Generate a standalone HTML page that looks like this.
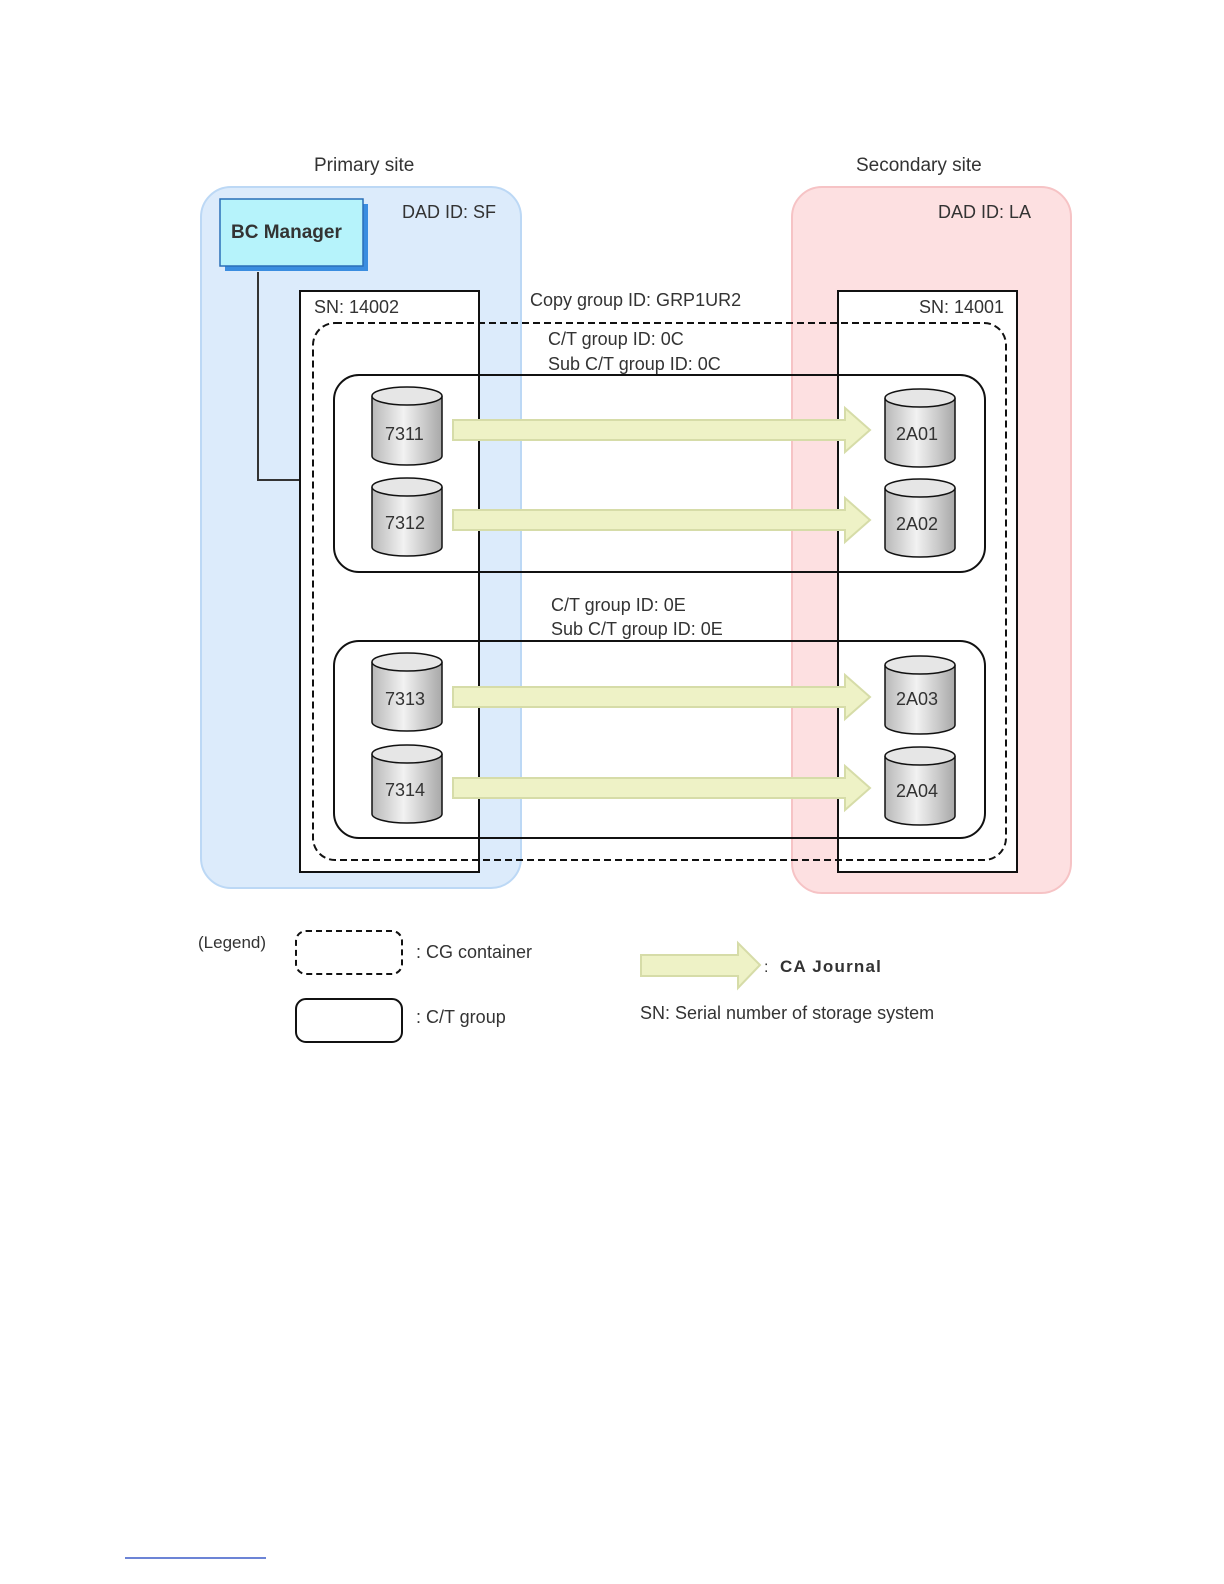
<!DOCTYPE html>
<html><head><meta charset="utf-8"><style>
html,body{margin:0;padding:0;background:#fff;overflow:hidden;width:1224px;height:1584px;}
svg{display:block;position:absolute;left:0;top:0;}
text{font-family:"Liberation Sans",sans-serif;fill:#333;}
</style></head><body>
<svg width="1224" height="1584" viewBox="0 0 1224 1584" xmlns="http://www.w3.org/2000/svg">
<defs>
<linearGradient id="cyl" x1="0" x2="1" y1="0" y2="0">
<stop offset="0" stop-color="#b8b8b8"/><stop offset="0.45" stop-color="#f2f2f2"/><stop offset="1" stop-color="#a8a8a8"/>
</linearGradient>
<g id="cy">
<path d="M0,10 L0,70 A35,9 0 0 0 70,70 L70,10" fill="url(#cyl)" stroke="#111" stroke-width="1.5"/>
<ellipse cx="35" cy="10" rx="35" ry="9" fill="#e6e6e6" stroke="#111" stroke-width="1.5"/>
</g>
<g id="ar">
<path d="M0,-10 L392,-10 L392,-22 L417,0 L392,22 L392,10 L0,10 Z" fill="#eef2c6" stroke="#d6dca8" stroke-width="2"/>
</g>
</defs>

<text x="314" y="171" font-size="19">Primary site</text>
<text x="856" y="171" font-size="19">Secondary site</text>

<rect x="201" y="187" width="320" height="701" rx="30" fill="#dcebfb" stroke="#bcd8f5" stroke-width="2"/>
<rect x="792" y="187" width="279" height="706" rx="30" fill="#fde0e1" stroke="#f6c3c5" stroke-width="2"/>

<text x="402" y="218" font-size="18">DAD ID: SF</text>
<text x="938" y="218" font-size="18">DAD ID: LA</text>

<rect x="225" y="204" width="143" height="67" fill="#3a8de0"/>
<rect x="220" y="199" width="143" height="67" fill="#b6f3fb" stroke="#2a6fb8" stroke-width="1.5"/>
<text x="231" y="238" font-size="19" font-weight="bold" fill="#222">BC Manager</text>

<polyline points="258,272 258,480 300,480" fill="none" stroke="#333" stroke-width="2"/>

<rect x="300" y="291" width="179" height="581" fill="#fff" stroke="#111" stroke-width="2"/>
<rect x="838" y="291" width="179" height="581" fill="#fff" stroke="#111" stroke-width="2"/>
<text x="314" y="313" font-size="18">SN: 14002</text>
<text x="919" y="313" font-size="18">SN: 14001</text>

<text x="530" y="306" font-size="18">Copy group ID: GRP1UR2</text>

<rect x="313" y="323" width="693" height="537" rx="22" fill="none" stroke="#111" stroke-width="2" stroke-dasharray="7,4"/>

<text x="548" y="345" font-size="18">C/T group ID: 0C</text>
<text x="548" y="370" font-size="18">Sub C/T group ID: 0C</text>
<rect x="334" y="375" width="651" height="197" rx="25" fill="none" stroke="#111" stroke-width="2"/>

<text x="551" y="611" font-size="18">C/T group ID: 0E</text>
<text x="551" y="635" font-size="18">Sub C/T group ID: 0E</text>
<rect x="334" y="641" width="651" height="197" rx="25" fill="none" stroke="#111" stroke-width="2"/>

<use href="#ar" x="453" y="430"/>
<use href="#ar" x="453" y="520"/>
<use href="#ar" x="453" y="697"/>
<use href="#ar" x="453" y="788"/>

<use href="#cy" x="372" y="386"/><text x="385" y="440" font-size="18">7311</text>
<use href="#cy" x="372" y="477"/><text x="385" y="529" font-size="18">7312</text>
<use href="#cy" x="372" y="652"/><text x="385" y="705" font-size="18">7313</text>
<use href="#cy" x="372" y="744"/><text x="385" y="796" font-size="18">7314</text>

<use href="#cy" x="885" y="388"/><text x="896" y="440" font-size="18">2A01</text>
<use href="#cy" x="885" y="478"/><text x="896" y="530" font-size="18">2A02</text>
<use href="#cy" x="885" y="655"/><text x="896" y="705" font-size="18">2A03</text>
<use href="#cy" x="885" y="746"/><text x="896" y="797" font-size="18">2A04</text>

<text x="198" y="948" font-size="17">(Legend)</text>
<rect x="296" y="931" width="106" height="43" rx="10" fill="none" stroke="#111" stroke-width="2" stroke-dasharray="6,4"/>
<text x="416" y="958" font-size="18">: CG container</text>
<rect x="296" y="999" width="106" height="43" rx="10" fill="none" stroke="#111" stroke-width="2"/>
<text x="416" y="1023" font-size="18">: C/T group</text>

<path d="M641,955 L738,955 L738,943 L760,965 L738,988 L738,976 L641,976 Z" fill="#eef2c6" stroke="#d6dca8" stroke-width="2"/>
<text x="764" y="972" font-size="16">:</text>
<text x="780" y="972" font-size="17" font-weight="bold" fill="#222" letter-spacing="1.2">CA Journal</text>
<text x="640" y="1019" font-size="18">SN: Serial number of storage system</text>

<line x1="125" y1="1558" x2="266" y2="1558" stroke="#3b5bc8" stroke-width="1.5"/>
</svg>
</body></html>
